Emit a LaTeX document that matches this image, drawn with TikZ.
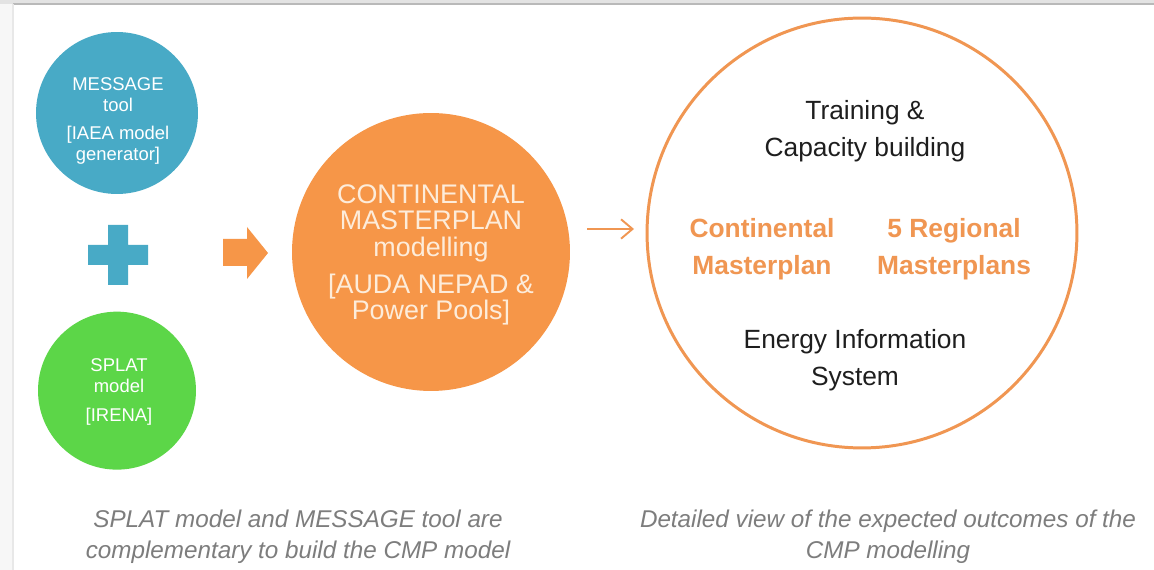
\documentclass[tikz,border=0pt]{standalone}
\usepackage{fontspec}
\setmainfont{Liberation Sans}
\usetikzlibrary{positioning}
\usetikzlibrary{arrows.meta}

\definecolor{messageBlue}{RGB}{72,170,198}
\definecolor{splatGreen}{RGB}{92,214,72}
\definecolor{cmpOrange}{RGB}{246,150,72}
\definecolor{outcomeOrange}{RGB}{240,150,82}
\definecolor{creamText}{RGB}{253,236,218}
\definecolor{captionGray}{RGB}{125,125,125}
\definecolor{bodyBlack}{RGB}{30,30,30}

\begin{document}
\begin{tikzpicture}
    [x=0.02cm, y=-0.02cm,
     toolBlue/.style={circle, fill=messageBlue, inner sep=0pt, minimum size=3.24cm},
     toolGreen/.style={circle, fill=splatGreen, inner sep=0pt, minimum size=3.16cm},
     planOrange/.style={circle, fill=cmpOrange, inner sep=0pt, minimum size=5.56cm},
     outcomeRing/.style={circle, draw=outcomeOrange, line width=1.7pt, inner sep=0pt, minimum size=8.6cm},
     toolText/.style={text=white, align=center, inner sep=0pt, font=\fontsize{10.5}{12}\selectfont},
     planText/.style={text=creamText, align=center, inner sep=0pt, font=\fontsize{15.3}{15}\selectfont},
     outcomeText/.style={text=bodyBlack, align=center, inner sep=0pt, font=\fontsize{15}{21}\selectfont},
     outcomeBold/.style={text=outcomeOrange, align=center, inner sep=0pt, font=\fontsize{15}{21}\selectfont\bfseries},
     captionText/.style={text=captionGray, align=center, inner sep=0pt, font=\fontsize{13.8}{17.6}\selectfont\itshape},
    ]

    \useasboundingbox (0,0) rectangle (1154,570);
    \fill[gray!6] (0,0) rectangle (1154,570);
    \fill[white] (13,4) rectangle (1154,570);
    \fill[gray!22] (0,0) rectangle (1154,4);
    \draw[gray!55, line width=0.6pt] (13,4) -- (1154,4);
    \draw[gray!18, line width=0.6pt] (13,4) -- (13,570);

    \node[toolBlue] (messageDot) at (117,113) {};
    \node[toolText] (messageLabel) at (118,121) {MESSAGE\\tool\\[4pt][IAEA model\\generator]};
    \node[toolGreen] (splatDot) [below=2.34cm of messageDot] {};
    \node[toolText] (splatLabel) at (119,392) {SPLAT\\model\\[5pt][IRENA]};

    \fill[messageBlue] (88,245) -- (108,245) -- (108,225) -- (128,225) -- (128,245) -- (148,245)
        -- (148,265) -- (128,265) -- (128,285) -- (108,285) -- (108,265) -- (88,265) -- cycle;
    \fill[cmpOrange] (223,239) -- (247,239) -- (247,227) -- (268,253) -- (247,279)
        -- (247,266) -- (223,266) -- cycle;

    \node[planOrange] (cmpDot) at (431,252) {};
    \node[planText] (cmpLabel) at (431,255) {CONTINENTAL\\MASTERPLAN\\modelling\\[6pt][AUDA NEPAD \&\\Power Pools]};

    \node[outcomeRing] (outcomeRing) at (862,233) {};
    \node[outcomeText] (trainingLabel) at (865,131) {Training \&\\Capacity building};
    \node[outcomeBold] (continentalLabel) at (762,249) {Continental\\Masterplan};
    \node[outcomeBold] (regionalLabel) [right=0.84cm of continentalLabel] {5 Regional\\Masterplans};
    \node[outcomeText] (energyLabel) at (855,360) {Energy Information\\System};

    \coordinate (flowStart) at (587,229);
    \coordinate (flowEnd) at (634,229);
    \draw[outcomeOrange, line width=1.1pt, -{Straight Barb[length=6.5pt, width=11pt]}] (flowStart) -- (flowEnd);

    \node[captionText] (toolCaption) at (298,537) {SPLAT model and MESSAGE tool are\\complementary to build the CMP model};
    \node[captionText] (outcomeCaption) at (888,537) {Detailed view of the expected outcomes of the\\CMP modelling};

\end{tikzpicture}
\end{document}
